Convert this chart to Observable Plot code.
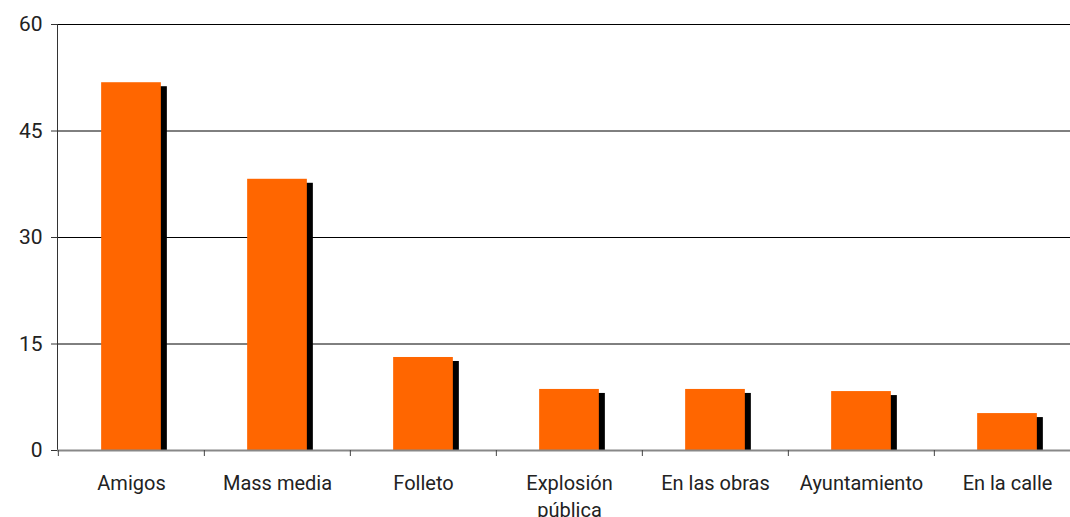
<!DOCTYPE html>
<html>
<head>
<meta charset="utf-8">
<script src="https://cdn.jsdelivr.net/npm/d3@7"></script>
<script src="https://cdn.jsdelivr.net/npm/@observablehq/plot@0.6"></script>
<style>
  html, body { margin: 0; padding: 0; background: #fff; }
  #chart svg { display: block; }
</style>
</head>
<body>
<div id="chart"></div>
<script>
const categories = ["Amigos", "Mass media", "Folleto", "Explosión pública", "En las obras", "Ayuntamiento", "En la calle"];
const values = [51.8, 38.2, 13.1, 8.6, 8.6, 8.3, 5.2];
const yTicks = [0, 15, 30, 45, 60];
const gridTicks = [15, 30, 45, 60];

const data = categories.map((c, i) => ({category: c, value: values[i]}));

const W = 1070, H = 517;
const left = 57, step = (1081 - 57) / categories.length;
const barW = 60;
const inset = (step - barW) / 2;

const chart = Plot.plot({
  width: W,
  height: H,
  marginTop: 24,
  marginBottom: 67,
  marginLeft: left,
  marginRight: 0,
  style: {fontFamily: "Roboto, 'Liberation Sans', sans-serif", fontSize: "20px", color: "#222", background: "#fff"},
  x: {domain: categories, range: [left, 1081], padding: 0, label: null},
  y: {domain: [0, 60], label: null},
  marks: [
    Plot.ruleY(gridTicks, {stroke: "#000", strokeWidth: 1}),
    Plot.frame({anchor: "left", stroke: "#333"}),
    Plot.barY(data, {x: "category", y: "value", fill: "#000", insetLeft: inset + 6, insetRight: inset - 6, insetTop: 4}),
    Plot.barY(data, {x: "category", y: "value", fill: "#FF6600", insetLeft: inset, insetRight: inset}),
    Plot.ruleY([0], {stroke: "#888", strokeWidth: 2}),
    Plot.ruleX(categories, {x: d => d, y1: 0, y2: 0, insetBottom: -6, dx: -step / 2, stroke: "#444"}),
    Plot.axisY({ticks: yTicks, tickSize: 6, tickPadding: 9, stroke: "#333", fontSize: 21, label: null}),
    Plot.axisX({tickSize: 0, tickPadding: 20, fontSize: 20, lineHeight: 1.35, label: null,
      tickFormat: d => d === "Explosión pública" ? "Explosión\npública" : d})
  ]
});
document.getElementById("chart").appendChild(chart);
</script>
</body>
</html>
